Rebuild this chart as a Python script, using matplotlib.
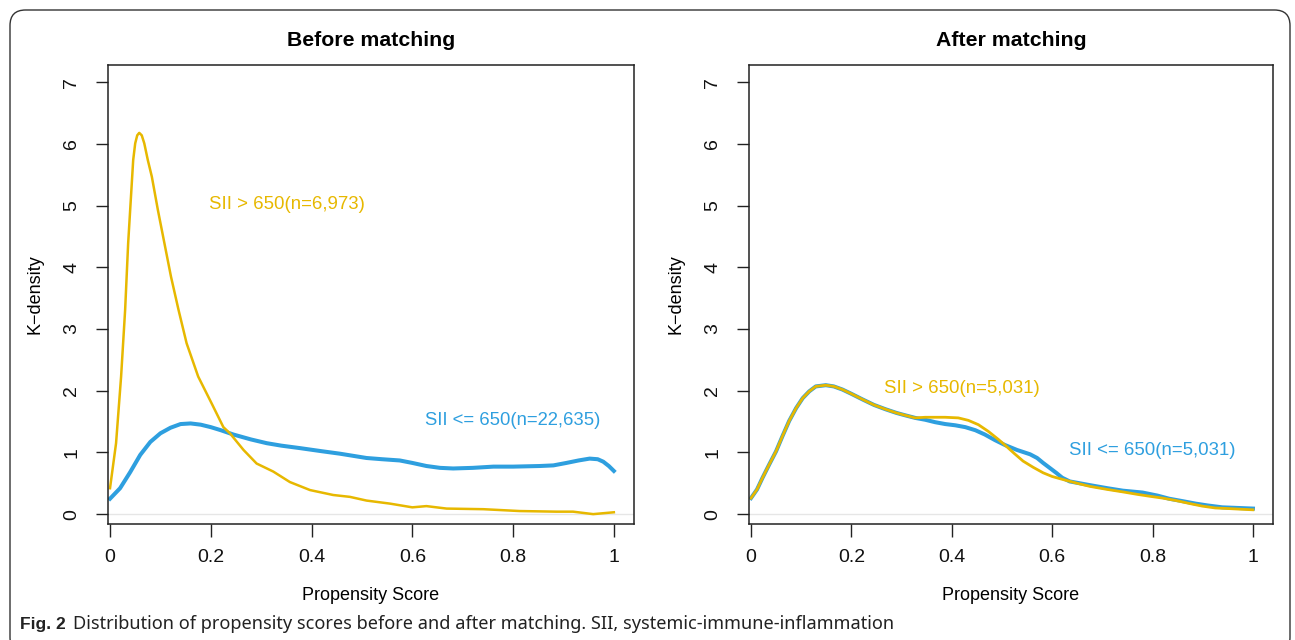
import matplotlib
matplotlib.use('Agg')
import matplotlib.pyplot as plt
from matplotlib.patches import FancyBboxPatch

plt.rcParams['font.family'] = ['Liberation Sans', 'DejaVu Sans']

# ---- data ----
# Before matching: SII > 650 (yellow) / SII <= 650 (blue)
pre_high_x = [0.0, 0.012, 0.022, 0.030, 0.036, 0.042, 0.046, 0.050, 0.054, 0.058,
              0.063, 0.068, 0.075, 0.083, 0.095, 0.108, 0.121, 0.136, 0.152, 0.175,
              0.202, 0.225, 0.238, 0.265, 0.291, 0.324, 0.357, 0.397, 0.443, 0.476,
              0.509, 0.556, 0.600, 0.628, 0.668, 0.741, 0.813, 0.886, 0.919, 0.959,
              1.0]
pre_high_y = [0.42, 1.15, 2.23, 3.31, 4.39, 5.20, 5.74, 6.01, 6.14, 6.18,
              6.14, 6.01, 5.74, 5.47, 4.93, 4.39, 3.85, 3.31, 2.77, 2.23,
              1.79, 1.41, 1.31, 1.04, 0.82, 0.69, 0.52, 0.39, 0.31, 0.28,
              0.22, 0.17, 0.11, 0.13, 0.09, 0.08, 0.05, 0.04, 0.04, 0.00,
              0.03]
pre_low_x = [0.0, 0.02, 0.04, 0.06, 0.08, 0.10, 0.12, 0.14, 0.16, 0.18,
             0.20, 0.22, 0.245, 0.28, 0.311, 0.34, 0.377, 0.42, 0.456, 0.509,
             0.54, 0.575, 0.60, 0.628, 0.655, 0.681, 0.72, 0.761, 0.80, 0.853,
             0.88, 0.906, 0.93, 0.952, 0.968, 0.979, 0.99, 1.0]
pre_low_y = [0.25, 0.42, 0.68, 0.96, 1.17, 1.31, 1.40, 1.46, 1.47, 1.45,
             1.41, 1.36, 1.29, 1.21, 1.15, 1.11, 1.07, 1.02, 0.98, 0.91,
             0.89, 0.87, 0.83, 0.78, 0.75, 0.74, 0.75, 0.77, 0.77, 0.78,
             0.79, 0.83, 0.87, 0.90, 0.89, 0.85, 0.78, 0.70]

# After matching
post_low_x = [0.0, 0.012, 0.023, 0.036, 0.050, 0.063, 0.076, 0.090, 0.103, 0.116,
              0.129, 0.149, 0.165, 0.182, 0.200, 0.222, 0.245, 0.268, 0.290, 0.308,
              0.327, 0.347, 0.367, 0.387, 0.407, 0.427, 0.447, 0.466, 0.486, 0.506,
              0.530, 0.556, 0.570, 0.582, 0.595, 0.608, 0.620, 0.635, 0.655, 0.675,
              0.710, 0.741, 0.780, 0.810, 0.833, 0.860, 0.886, 0.910, 0.939, 0.970,
              1.0]
post_low_y = [0.26, 0.40, 0.59, 0.80, 1.02, 1.27, 1.51, 1.72, 1.88, 1.99,
              2.07, 2.09, 2.07, 2.02, 1.95, 1.86, 1.77, 1.70, 1.64, 1.60,
              1.56, 1.53, 1.49, 1.46, 1.44, 1.41, 1.36, 1.29, 1.20, 1.12,
              1.04, 0.97, 0.91, 0.83, 0.75, 0.67, 0.59, 0.53, 0.50, 0.47,
              0.42, 0.38, 0.35, 0.30, 0.25, 0.21, 0.17, 0.14, 0.11, 0.10,
              0.09]
post_high_x = [0.0, 0.012, 0.023, 0.036, 0.050, 0.063, 0.076, 0.090, 0.103, 0.116,
               0.129, 0.149, 0.165, 0.182, 0.200, 0.222, 0.245, 0.268, 0.290, 0.308,
               0.327, 0.347, 0.367, 0.387, 0.413, 0.433, 0.453, 0.473, 0.493, 0.510,
               0.525, 0.542, 0.562, 0.582, 0.600, 0.622, 0.650, 0.675, 0.710, 0.741,
               0.770, 0.794, 0.820, 0.847, 0.875, 0.899, 0.925, 0.952, 0.975, 1.0]
post_high_y = [0.26, 0.40, 0.59, 0.80, 1.02, 1.27, 1.51, 1.72, 1.88, 1.99,
               2.07, 2.09, 2.07, 2.02, 1.95, 1.86, 1.77, 1.70, 1.64, 1.60,
               1.56, 1.57, 1.57, 1.57, 1.56, 1.52, 1.45, 1.34, 1.21, 1.09,
               0.98, 0.86, 0.76, 0.67, 0.61, 0.56, 0.50, 0.45, 0.40, 0.36,
               0.32, 0.29, 0.26, 0.22, 0.17, 0.13, 0.10, 0.09, 0.08, 0.07]

x_ticks = [0, 0.2, 0.4, 0.6, 0.8, 1]
x_ticklabels = ['0', '0.2', '0.4', '0.6', '0.8', '1']
y_ticks = [0, 1, 2, 3, 4, 5, 6, 7]

YELLOW = '#E7B800'
BLUE = '#2E9FDF'

W, H = 1295, 640


def style_axes(ax, title):
    ax.set_xlim(-0.004, 1.04)
    ax.set_ylim(-0.16, 7.28)
    ax.axhline(0, color='#E6E6E6', lw=1.0, zorder=0)
    ax.set_xticks(x_ticks)
    ax.set_xticklabels(x_ticklabels)
    ax.set_yticks(y_ticks)
    ax.tick_params(axis='both', direction='out', length=9, width=1.0,
                   labelsize=14, color='#222222', labelcolor='#111111')
    ax.tick_params(axis='x', pad=9)
    ax.tick_params(axis='y', pad=11)
    for lab in ax.get_yticklabels():
        lab.set_rotation(90)
        lab.set_va('center')
        lab.set_ha('right')
    for sp in ax.spines.values():
        sp.set_linewidth(1.1)
        sp.set_color('#222222')
    ax.set_xlabel('Propensity Score', fontsize=13, labelpad=15)
    ax.set_ylabel('K\u2212density', fontsize=13, labelpad=14)
    ax.set_title(title, fontsize=15.3, fontweight='bold', pad=14)


def main():
    fig = plt.figure(figsize=(W / 100, H / 100), dpi=100)

    # 外框（圆角）
    frame = FancyBboxPatch((10 / W, -0.02), 1280 / W, 1 - 10 / H + 0.02,
                           boxstyle='round,pad=0,rounding_size=0.012',
                           transform=fig.transFigure, fill=False,
                           edgecolor='#333333', lw=1.0, mutation_aspect=W / H)
    fig.patches.append(frame)

    ax1 = fig.add_axes([108 / W, (H - 524) / H, 526 / W, 459 / H])
    ax2 = fig.add_axes([749 / W, (H - 524) / H, 524 / W, 459 / H])

    # Before matching
    ax1.plot(pre_low_x, pre_low_y, color=BLUE, lw=2.9, solid_joinstyle='round')
    ax1.plot(pre_high_x, pre_high_y, color=YELLOW, lw=1.8, solid_joinstyle='round')
    ax1.text(0.351, 5.02, 'SII > 650(n=6,973)', color=YELLOW, fontsize=13.4,
             ha='center', va='center')
    ax1.text(0.80, 1.52, 'SII <= 650(n=22,635)', color=BLUE, fontsize=13.3,
             ha='center', va='center')
    style_axes(ax1, 'Before matching')

    # After matching
    ax2.plot(post_low_x, post_low_y, color=BLUE, lw=2.9, solid_joinstyle='round')
    ax2.plot(post_high_x, post_high_y, color=YELLOW, lw=2.0, solid_joinstyle='round')
    ax2.text(0.421, 2.03, 'SII > 650(n=5,031)', color=YELLOW, fontsize=13.4,
             ha='center', va='center')
    ax2.text(0.800, 1.03, 'SII <= 650(n=5,031)', color=BLUE, fontsize=13.4,
             ha='center', va='center')
    style_axes(ax2, 'After matching')

    # 图注
    fig.text(20 / W, 1 - 624 / H, 'Fig. 2', fontsize=12.5, fontweight='bold',
             family=['Liberation Sans', 'DejaVu Sans'], va='center', ha='left',
             color='#222222')
    fig.text(73 / W, 1 - 624 / H,
             'Distribution of propensity scores before and after matching. '
             'SII, systemic-immune-inflammation',
             fontsize=13.1, family=['Noto Sans', 'DejaVu Sans'],
             va='center', ha='left', color='#222222')

    fig.savefig('out.png', dpi=100)
    plt.close(fig)


if __name__ == '__main__':
    main()
